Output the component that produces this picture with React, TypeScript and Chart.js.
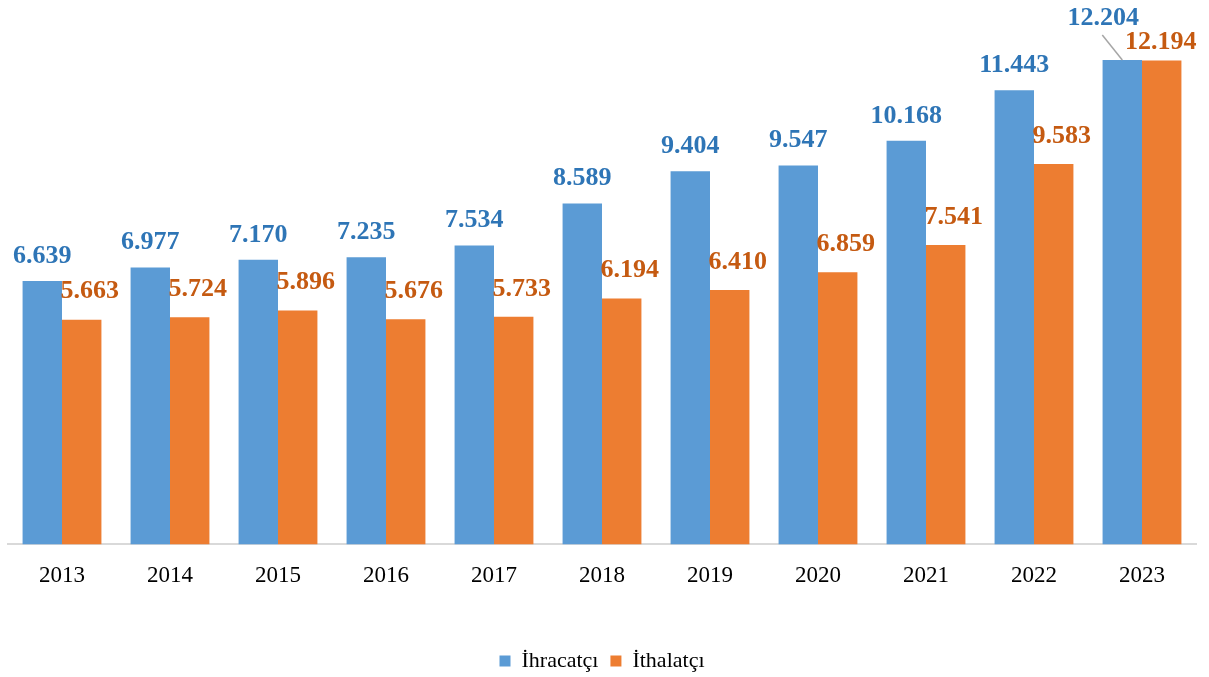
import React, { useEffect, useRef } from "react";
import { Chart, registerables } from "chart.js";

Chart.register(...registerables);

const years = ["2013", "2014", "2015", "2016", "2017", "2018", "2019", "2020", "2021", "2022", "2023"];
const ihracatci = [6639, 6977, 7170, 7235, 7534, 8589, 9404, 9547, 10168, 11443, 12204];
const ithalatci = [5663, 5724, 5896, 5676, 5733, 6194, 6410, 6859, 7541, 9583, 12194];
const seriesNames = ["İhracatçı", "İthalatçı"];

const BAR_COLORS = ["#5B9BD5", "#ED7D31"];
const LABEL_COLORS = ["#2E75B6", "#C55A11"];

function fmt(v: number): string {
  const s = String(Math.round(v));
  return s.replace(/\B(?=(\d{3})+(?!\d))/g, ".");
}

const labelPlugin = {
  id: "valueLabels",
  afterLayout(chart: any) {
    if (chart.legend) {
      chart.legend.top += 5;
      chart.legend.bottom += 5;
    }
  },
  afterDatasetsDraw(chart: any) {
    const ctx = chart.ctx;
    ctx.save();
    ctx.font = "bold 26px 'Liberation Serif', 'Times New Roman', serif";
    ctx.textAlign = "center";
    ctx.textBaseline = "middle";
    chart.data.datasets.forEach((ds: any, di: number) => {
      const meta = chart.getDatasetMeta(di);
      meta.data.forEach((el: any, i: number) => {
        const v = ds.data[i];
        const last = i === ds.data.length - 1;
        let dx = 0;
        let dy = 0;
        if (di === 0) {
          dx = last ? -19 : 0;
          dy = last ? -42 : -25;
        } else {
          dx = last ? -1 : 8;
          dy = last ? -18 : -28;
        }
        if (di === 0 && last) {
          ctx.strokeStyle = "#A6A6A6";
          ctx.lineWidth = 1.5;
          ctx.beginPath();
          ctx.moveTo(el.x - 20, el.y - 25);
          ctx.lineTo(el.x, el.y);
          ctx.stroke();
        }
        ctx.fillStyle = LABEL_COLORS[di];
        ctx.fillText(fmt(v), el.x + dx, el.y + dy);
      });
    });
    ctx.restore();
  },
};

export default function App() {
  const ref = useRef<HTMLCanvasElement>(null);
  useEffect(() => {
    document.body.style.margin = "0";
    const canvas = ref.current!;
    const chart = new Chart(canvas, {
      type: "bar",
      data: {
        labels: years,
        datasets: [
          { label: seriesNames[0], data: ihracatci, backgroundColor: BAR_COLORS[0] },
          { label: seriesNames[1], data: ithalatci, backgroundColor: BAR_COLORS[1] },
        ],
      },
      options: {
        animation: false,
        responsive: false,
        maintainAspectRatio: false,
        layout: { padding: { left: 8, right: 13, top: 0, bottom: 0 } },
        datasets: { bar: { barPercentage: 1, categoryPercentage: 0.73 } },
        scales: {
          x: {
            grid: { display: false },
            border: { display: true, color: "#D9D9D9", width: 2 },
            afterFit: (scale: any) => {
              scale.height += 33;
            },
            ticks: {
              color: "#000",
              padding: 10,
              font: { family: "'Liberation Serif', 'Times New Roman', serif", size: 23 },
            },
          },
          y: {
            display: false,
            min: 0,
            max: 13717,
          },
        },
        plugins: {
          legend: {
            position: "bottom",
            labels: {
              boxWidth: 11,
              boxHeight: 11,
              color: "#000",
              padding: 12,
              font: { family: "'Liberation Serif', 'Times New Roman', serif", size: 22 },
            },
          },
          tooltip: { enabled: false },
        },
      },
      plugins: [labelPlugin],
    });
    return () => chart.destroy();
  }, []);
  return (
    <div style={{ width: 1209, height: 677, background: "#fff" }}>
      <canvas ref={ref} width={1209} height={677} style={{ display: "block" }} />
    </div>
  );
}
